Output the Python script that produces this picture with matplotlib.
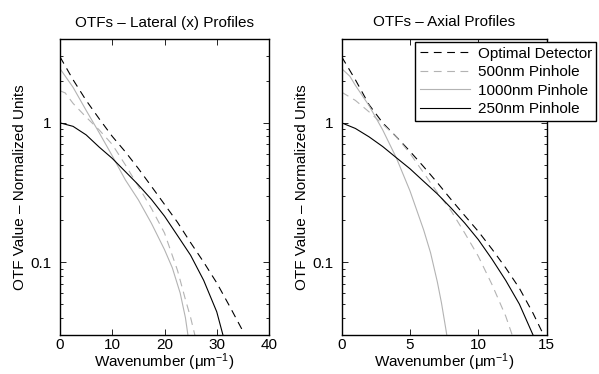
import matplotlib
matplotlib.use("Agg")
import matplotlib.pyplot as plt
from matplotlib.ticker import FixedLocator, FuncFormatter, LogLocator, NullFormatter

plt.rcParams['font.family'] = ['Liberation Sans', 'DejaVu Sans']
plt.rcParams['font.size'] = 11
plt.rcParams['mathtext.fontset'] = 'custom'
plt.rcParams['mathtext.rm'] = 'Liberation Sans'
plt.rcParams['mathtext.it'] = 'Liberation Sans:italic'

GRAY = '#b3b3b3'

# ---- lateral (x) profiles ----
lat_opt_x = [0, 2.5, 5, 7.5, 10, 12.5, 15, 17.5, 20, 22.5, 25, 27.5, 30, 32.5, 35]
lat_opt_y = [2.98, 2.04, 1.45, 1.07, 0.80, 0.62, 0.47, 0.35, 0.26, 0.193, 0.138, 0.10, 0.071, 0.048, 0.032]

lat_500_x = [0, 1, 2.5, 5, 7.5, 10, 12.5, 15, 17.5, 20, 22.5, 24, 25, 26]
lat_500_y = [1.70, 1.64, 1.38, 1.10, 0.89, 0.70, 0.50, 0.35, 0.243, 0.162, 0.087, 0.054, 0.040, 0.028]

lat_1000_x = [0, 2.5, 5, 7.5, 10, 12.5, 15, 17.5, 20, 21.5, 23, 24, 24.6]
lat_1000_y = [2.45, 1.80, 1.23, 0.85, 0.58, 0.39, 0.28, 0.19, 0.123, 0.091, 0.060, 0.040, 0.028]

lat_250_x = [0, 2.5, 5, 7.5, 10, 12.5, 15, 17.5, 20, 22.5, 25, 27.5, 30, 31.4]
lat_250_y = [1.0, 0.944, 0.82, 0.67, 0.556, 0.447, 0.359, 0.282, 0.214, 0.155, 0.112, 0.074, 0.044, 0.028]

# ---- axial profiles ----
ax_opt_x = [0, 1, 2, 3, 4, 5, 6, 7, 8, 9, 10, 11, 12, 13, 14, 15]
ax_opt_y = [2.98, 2.04, 1.35, 1.0, 0.794, 0.624, 0.484, 0.372, 0.282, 0.216, 0.166, 0.124, 0.091, 0.065, 0.043, 0.027]

ax_500_x = [0, 1, 2, 3, 4, 5, 6, 7, 8, 9, 10, 11, 12, 12.5]
ax_500_y = [1.66, 1.45, 1.20, 0.977, 0.794, 0.603, 0.437, 0.316, 0.234, 0.162, 0.110, 0.069, 0.041, 0.0295]

ax_1000_x = [0, 0.6, 1, 2, 3, 4, 5, 6, 6.5, 7, 7.3, 7.6, 7.75]
ax_1000_y = [2.45, 2.16, 1.86, 1.33, 0.89, 0.56, 0.324, 0.170, 0.117, 0.072, 0.051, 0.034, 0.0275]

ax_250_x = [0, 1, 2, 3, 4, 5, 6, 7, 8, 9, 10, 11, 12, 13, 14]
ax_250_y = [1.0, 0.912, 0.794, 0.676, 0.562, 0.468, 0.380, 0.309, 0.245, 0.191, 0.145, 0.105, 0.074, 0.050, 0.030]

labels = ['Optimal Detector', '500nm Pinhole', '1000nm Pinhole', '250nm Pinhole']


def style_axis(ax, xmax, xticks, title):
    ax.set_yscale('log')
    ax.set_xlim(0, xmax)
    ax.set_ylim(0.03, 4)
    ax.set_xticks(xticks)
    ax.yaxis.set_major_locator(FixedLocator([0.1, 1]))
    ax.yaxis.set_major_formatter(FuncFormatter(lambda v, p: '%g' % v))
    ax.yaxis.set_minor_locator(LogLocator(base=10, subs=range(2, 10)))
    ax.yaxis.set_minor_formatter(NullFormatter())
    ax.tick_params(which='both', direction='in', top=True, right=True, width=0.6)
    ax.tick_params(which='major', length=4, pad=2)
    ax.tick_params(axis='y', which='major', pad=6)
    ax.tick_params(which='minor', length=2.2)
    for s in ax.spines.values():
        s.set_linewidth(1.0)
    ax.set_title(title, fontsize=11, pad=9)
    ax.set_xlabel('Wavenumber ($\\mathrm{\\mu m}^{-1}$)', labelpad=0)
    ax.set_ylabel('OTF Value \u2013 Normalized Units')
    ax.yaxis.set_label_coords(-0.16, 0.5)


def draw(ax, opt, p500, p1000, p250):
    h1, = ax.plot(opt[0], opt[1], color='k', lw=0.8, dashes=(7, 5))
    h2, = ax.plot(p500[0], p500[1], color=GRAY, lw=0.8, dashes=(7, 5))
    h3, = ax.plot(p1000[0], p1000[1], color=GRAY, lw=0.8)
    h4, = ax.plot(p250[0], p250[1], color='k', lw=0.8)
    return [h1, h2, h3, h4]


fig = plt.figure(figsize=(5.99, 3.74), dpi=100)
ax1 = fig.add_axes([60 / 599, 39 / 374, 209 / 599, 296 / 374])
ax2 = fig.add_axes([341.7 / 599, 39 / 374, 205 / 599, 296 / 374])

draw(ax1, (lat_opt_x, lat_opt_y), (lat_500_x, lat_500_y),
     (lat_1000_x, lat_1000_y), (lat_250_x, lat_250_y))
style_axis(ax1, 40, [0, 10, 20, 30, 40], 'OTFs \u2013 Lateral (x) Profiles')

handles = draw(ax2, (ax_opt_x, ax_opt_y), (ax_500_x, ax_500_y),
               (ax_1000_x, ax_1000_y), (ax_250_x, ax_250_y))
style_axis(ax2, 15, [0, 5, 10, 15], 'OTFs \u2013 Axial Profiles')

leg = fig.legend(handles, labels, loc='upper left',
                 bbox_to_anchor=(415 / 599, 1 - 42 / 374),
                 fancybox=False, framealpha=1, edgecolor='k',
                 handlelength=3.3, handletextpad=0.5, labelspacing=0.3,
                 borderpad=0.3, borderaxespad=0, fontsize=11)
leg.get_frame().set_linewidth(1.0)

fig.savefig('out.png', dpi=100)
